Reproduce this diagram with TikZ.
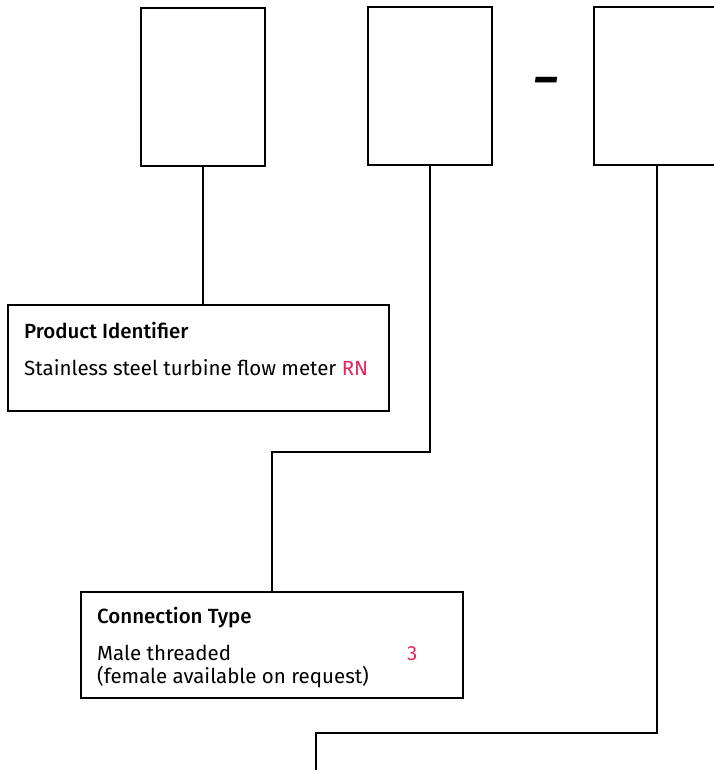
\documentclass[tikz,border=0pt]{standalone}
\usepackage{fontspec}
\setmainfont{Fira Sans}
\newfontfamily\titlefont{Fira Sans}[UprightFont={* Medium}]
\usetikzlibrary{positioning}
\definecolor{codered}{RGB}{232,36,88}
\tikzset{cb/.append style={draw,line width=2.2pt,minimum width=124pt,minimum height=158pt,inner sep=0pt}}
\tikzset{ib/.append style={draw,line width=2.2pt,minimum width=381pt,minimum height=106pt,inner sep=0pt}}
\tikzset{tt/.append style={anchor=base west,inner sep=0pt,font=\titlefont\fontsize{20.5}{24}\selectfont}}
\tikzset{bt/.append style={anchor=base west,inner sep=0pt,font=\fontsize{20.5}{24}\selectfont}}
\tikzset{ln/.append style={line width=2.2pt}}

\begin{document}
\begin{tikzpicture}[x=1pt,y=-1pt]
                \useasboundingbox (0,0) rectangle (713,770);
                % code boxes
                \node[cb] (b1) at (203,87) {};
                \node[cb] (b2) at (430,86) {};
                \node[cb,minimum width=126pt] (b3) at (657,86) {};
                \node[inner sep=0pt,font=\bfseries\fontsize{46}{46}\selectfont] (sep) at (546,86) {\itshape –};
                % info boxes
                \node[ib] (pid) at (198.5,358) {};
                \node[ib,minimum width=382pt] (con) at (272,645) {};
                \node[tt] (pidt) at (24,338) {Product Identifier};
                \node[bt] (pidb) at (24,375) {Stainless steel turbine flow meter \textcolor{codered}{RN}};
                \node[tt] (cont) at (97,623) {Connection Type};
                \node[bt] (conb) at (97,660) {Male threaded};
                \node[bt] (conc) at (97,683) {(female available on request)};
                \node[bt,text=codered] (conv) at (407,660) {3};
                % connectors
                \coordinate (k2) at (272,452);
                \coordinate (k3) at (316,733);
                \coordinate (e3) at (316,772);
                \draw[ln] (b1.south) -- (b1.south |- pid.north);
                \draw[ln] (b2.south) |- (k2) -- (con.north);
                \draw[ln] (b3.south) |- (k3) -- (e3);
            \end{tikzpicture}
\end{document}
